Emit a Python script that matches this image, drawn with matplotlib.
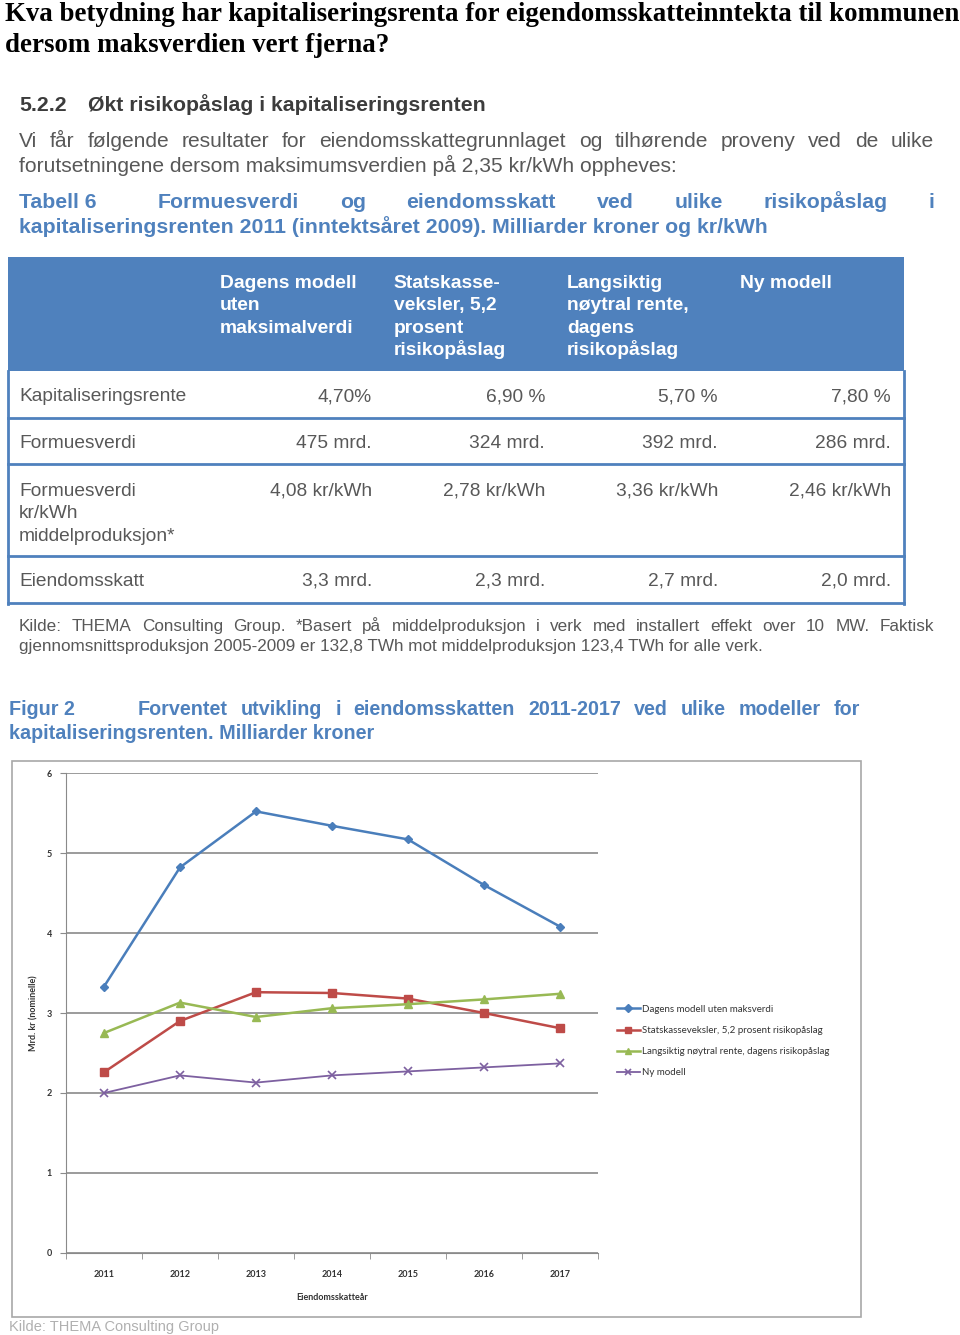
import matplotlib
matplotlib.use('Agg')
import matplotlib.pyplot as plt
from matplotlib import font_manager
from matplotlib.patches import Rectangle
from matplotlib.lines import Line2D

# chart data (Figur 2)
years = ['2011', '2012', '2013', '2014', '2015', '2016', '2017']
dagens = [3.33, 4.82, 5.52, 5.34, 5.17, 4.60, 4.08]
statskasse = [2.26, 2.90, 3.26, 3.25, 3.18, 3.00, 2.81]
langsiktig = [2.75, 3.13, 2.95, 3.06, 3.11, 3.17, 3.24]
ny_modell = [2.00, 2.22, 2.13, 2.22, 2.27, 2.32, 2.37]
series_names = ['Dagens modell uten maksverdi',
                'Statskasseveksler, 5,2 prosent risikopåslag',
                'Langsiktig nøytral rente, dagens risikopåslag',
                'Ny modell']

# table 6
header_cols = [['Dagens modell', 'uten', 'maksimalverdi'],
               ['Statskasse-', 'veksler, 5,2', 'prosent', 'risikopåslag'],
               ['Langsiktig', 'nøytral rente,', 'dagens', 'risikopåslag'],
               ['Ny modell']]
row_labels = [['Kapitaliseringsrente'], ['Formuesverdi'],
              ['Formuesverdi', 'kr/kWh', 'middelproduksjon*'], ['Eiendomsskatt']]
row_kapital = ['4,70%', '6,90 %', '5,70 %', '7,80 %']
row_formue = ['475 mrd.', '324 mrd.', '392 mrd.', '286 mrd.']
row_kwh = ['4,08 kr/kWh', '2,78 kr/kWh', '3,36 kr/kWh', '2,46 kr/kWh']
row_skatt = ['3,3 mrd.', '2,3 mrd.', '2,7 mrd.', '2,0 mrd.']

W, H = 960, 1335
fig = plt.figure(figsize=(W / 100, H / 100), dpi=100)
fig.patch.set_facecolor('white')
renderer = fig.canvas.get_renderer()

installed = {f.name for f in font_manager.fontManager.ttflist}
NARROW = 'Liberation Sans Narrow' if 'Liberation Sans Narrow' in installed else 'Liberation Sans'

GREY = '#585858'
BLUE = '#4F81BD'


def fx(x):
    return x / W


def fy(y):
    return 1 - y / H


def text_w(s, **kw):
    t = fig.text(0, 0, s, **kw)
    w = t.get_window_extent(renderer).width
    t.remove()
    return w


def fit_size(s, width, **kw):
    # font size that makes s about `width` pixels wide
    return 12 * width / text_w(s, fontsize=12, **kw)


def put(s, x, y, **kw):
    return fig.text(fx(x), fy(y), s, va='baseline', **kw)


def justify(s, x0, x1, y, **kw):
    words = s.split()
    widths = [text_w(w, **kw) for w in words]
    gap = (x1 - x0 - sum(widths)) / max(len(words) - 1, 1)
    x = x0
    for w, wd in zip(words, widths):
        put(w, x, y, **kw)
        x += wd + gap


# ---- page title
serif = dict(family='Liberation Serif', weight='bold', color='black')
ts = fit_size('Kva betydning har kapitaliseringsrenta for eigendomsskatteinntekta til kommunen', 948, **serif)
put('Kva betydning har kapitaliseringsrenta for eigendomsskatteinntekta til kommunen', 5, 21, fontsize=ts, **serif)
put('dersom maksverdien vert fjerna?', 5, 52, fontsize=ts, **serif)

# ---- section heading and body text
head = dict(family=NARROW, weight='bold', color='#3c3c3c')
hs = fit_size('Økt risikopåslag i kapitaliseringsrenten', 394, **head)
put('5.2.2', 19, 111, fontsize=hs, **head)
put('Økt risikopåslag i kapitaliseringsrenten', 88, 111, fontsize=hs, **head)

body = dict(family=NARROW, color=GREY)
bs = fit_size('forutsetningene dersom maksimumsverdien på 2,35 kr/kWh oppheves:', 660, **body)
justify('Vi får følgende resultater for eiendomsskattegrunnlaget og tilhørende proveny ved de ulike',
        19, 934, 147, fontsize=bs, **body)
put('forutsetningene dersom maksimumsverdien på 2,35 kr/kWh oppheves:', 19, 172, fontsize=bs, **body)

cap = dict(family=NARROW, weight='bold', color=BLUE)
cs = fit_size('kapitaliseringsrenten 2011 (inntektsåret 2009). Milliarder kroner og kr/kWh', 743, **cap)
put('Tabell 6', 19, 208, fontsize=cs, **cap)
justify('Formuesverdi og eiendomsskatt ved ulike risikopåslag i', 158, 934, 208, fontsize=cs, **cap)
put('kapitaliseringsrenten 2011 (inntektsåret 2009). Milliarder kroner og kr/kWh', 19, 233, fontsize=cs, **cap)

# ---- table
fig.add_artist(Rectangle((fx(8), fy(371)), fx(904) - fx(8), (371 - 257) / H,
                         transform=fig.transFigure, facecolor=BLUE, edgecolor='none'))
hdr = dict(family=NARROW, weight='bold', color='white')
hds = fit_size('Dagens modell', 136, **hdr)
col_left = [220, 394, 567, 740]
for cx, lines in zip(col_left, header_cols):
    for i, ln in enumerate(lines):
        put(ln, cx, 288 + 22.3 * i, fontsize=hds, **hdr)

cell = dict(family=NARROW, color=GREY)
cls = fit_size('Kapitaliseringsrente', 168, **cell)
col_right = [372, 545, 718, 891]
row_base = [401, 448, 496, 586]
rows = [row_kapital, row_formue, row_kwh, row_skatt]
for base, labels, vals in zip(row_base, row_labels, rows):
    for i, ln in enumerate(labels):
        put(ln, 19, base + 22.5 * i, fontsize=cls, **cell)
    for cx, v in zip(col_right, vals):
        put(v, cx, base, fontsize=cls, ha='right', **cell)

for yy in [418, 464, 556, 603]:
    fig.add_artist(Line2D([fx(8), fx(904)], [fy(yy), fy(yy)], color=BLUE, lw=2.0))
for xx in [8, 904]:
    fig.add_artist(Line2D([fx(xx), fx(xx)], [fy(371), fy(604)], color=BLUE, lw=2.0))

note = dict(family=NARROW, color=GREY)
ns = fit_size('gjennomsnittsproduksjon 2005-2009 er 132,8 TWh mot middelproduksjon 123,4 TWh for alle verk.', 747, **note)
justify('Kilde: THEMA Consulting Group. *Basert på middelproduksjon i verk med installert effekt over 10 MW. Faktisk',
        19, 934, 631, fontsize=ns, **note)
put('gjennomsnittsproduksjon 2005-2009 er 132,8 TWh mot middelproduksjon 123,4 TWh for alle verk.',
    19, 651, fontsize=ns, **note)

fs = fit_size('kapitaliseringsrenten. Milliarder kroner', 362, **cap)
put('Figur 2', 9, 715, fontsize=fs, **cap)
justify('Forventet utvikling i eiendomsskatten 2011-2017 ved ulike modeller for', 138, 860, 715, fontsize=fs, **cap)
put('kapitaliseringsrenten. Milliarder kroner', 9, 739, fontsize=fs, **cap)

# ---- chart
fig.add_artist(Rectangle((fx(12), fy(1317)), fx(861) - fx(12), (1317 - 761) / H,
                         transform=fig.transFigure, facecolor='none', edgecolor='#a8a8a8', lw=1.2))

ax = fig.add_axes([fx(66), fy(1253), fx(598) - fx(66), (1253 - 773) / H])
ax.set_facecolor('none')
x = list(range(len(years)))
l1, = ax.plot(x, dagens, color='#4A7EBB', lw=1.8, marker='D', ms=4.5)
l2, = ax.plot(x, statskasse, color='#BE4B48', lw=1.8, marker='s', ms=6)
l3, = ax.plot(x, langsiktig, color='#98B954', lw=1.8, marker='^', ms=6)
l4, = ax.plot(x, ny_modell, color='#7D60A0', lw=1.3, marker='x', ms=6, mew=1.2)

ax.set_xlim(-0.5, len(years) - 0.5)
ax.set_ylim(0, 6)
ax.set_yticks(range(7))
ax.set_xticks(x)
ax.set_xticklabels(years)
ax.set_xticks([i - 0.5 for i in range(len(years) + 1)], minor=True)
ax.grid(axis='y', color='#8a8a8a', lw=1.2)
ax.set_axisbelow(True)
for side in ['top', 'right']:
    ax.spines[side].set_visible(False)
for side in ['left', 'bottom']:
    ax.spines[side].set_color('#8a8a8a')
ax.tick_params(axis='x', which='major', length=0, pad=12, labelsize=6.5, labelcolor='#333333')
ax.tick_params(axis='x', which='minor', length=4, color='#8a8a8a')
ax.tick_params(axis='y', length=4, color='#8a8a8a', pad=6, labelsize=6.5, labelcolor='#333333')
for lab in ax.get_xticklabels() + ax.get_yticklabels():
    lab.set_family('Lato')
    lab.set_weight('bold')
ax.set_xlabel('Eiendomsskatteår', family='Lato', weight='bold', fontsize=6.5, color='#333333', labelpad=10)
ax.set_ylabel('Mrd. kr (nominelle)', family='Lato', weight='bold', fontsize=6.5, color='#333333', labelpad=6)

fig.legend([l1, l2, l3, l4], series_names, loc='upper left', bbox_to_anchor=(fx(608), fy(996)),
           frameon=False, prop=dict(family='Lato', size=7.0), labelspacing=1.25,
           handlelength=2.4, handletextpad=0.2, markerscale=0.8, labelcolor='#333333')

# faint line below the chart box
put('Kilde: THEMA Consulting Group', 9, 1331, fontsize=ns * 0.85, family=NARROW, color='#b0b0b0')

fig.savefig('out.png', dpi=100)
